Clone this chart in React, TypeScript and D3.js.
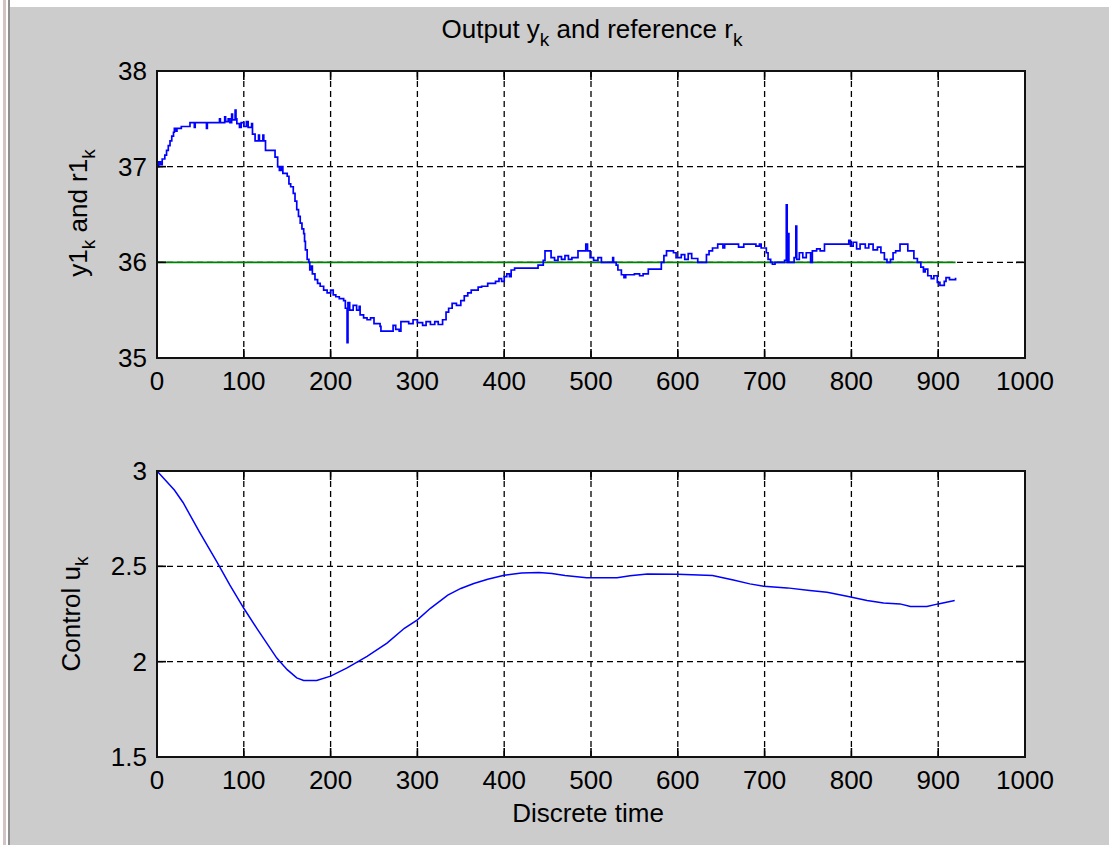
import React from "react";
import * as d3 from "d3";

// Output y1_k (sample index, value)
const y1Points: [number, number][] = [
  [0, 37.0], [2, 37.05], [4, 37.02], [6, 37.08], [9, 37.12], [11, 37.17], [13, 37.22], [15, 37.27],
  [17, 37.32], [19, 37.36], [20, 37.4], [22, 37.37], [23, 37.4], [28, 37.42], [38, 37.46], [43, 37.41],
  [44, 37.46], [57, 37.4], [58, 37.46], [72, 37.5], [73, 37.46], [78, 37.52], [79, 37.47], [82, 37.5],
  [84, 37.46], [86, 37.55], [87, 37.49], [90, 37.59], [91, 37.5], [92, 37.45], [95, 37.41], [97, 37.46],
  [100, 37.42], [103, 37.47], [105, 37.41], [109, 37.45], [110, 37.34], [113, 37.27], [117, 37.33],
  [118, 37.27], [122, 37.33], [123, 37.27], [125, 37.17], [136, 37.1], [139, 37.0], [141, 36.96],
  [143, 37.0], [145, 36.93], [150, 36.9], [152, 36.82], [154, 36.79], [157, 36.72], [159, 36.64],
  [161, 36.55], [163, 36.48], [165, 36.41], [167, 36.35], [169, 36.3], [170, 36.22], [171, 36.13],
  [173, 36.03], [175, 36.0], [176, 35.92], [178, 35.96], [179, 35.88], [182, 35.82], [185, 35.78],
  [188, 35.75], [192, 35.71], [196, 35.68], [200, 35.71], [203, 35.66], [206, 35.64], [210, 35.62],
  [215, 35.6], [217, 35.52], [219, 35.16], [220, 35.58], [222, 35.5], [226, 35.55], [230, 35.5],
  [233, 35.54], [234, 35.45], [238, 35.42], [242, 35.4], [246, 35.42], [250, 35.36], [257, 35.33],
  [258, 35.28], [270, 35.28], [272, 35.34], [275, 35.3], [279, 35.28], [281, 35.38], [290, 35.36],
  [295, 35.4], [300, 35.37], [306, 35.34], [310, 35.38], [315, 35.35], [320, 35.38], [324, 35.35],
  [329, 35.4], [333, 35.48], [336, 35.52], [340, 35.57], [345, 35.55], [350, 35.6], [354, 35.65],
  [358, 35.68], [362, 35.71], [370, 35.74], [374, 35.75], [381, 35.78], [390, 35.8], [394, 35.83],
  [397, 35.8], [400, 35.85], [403, 35.88], [406, 35.85], [408, 35.92], [412, 35.94], [439, 35.97],
  [445, 36.02], [447, 36.12], [454, 36.05], [458, 36.02], [462, 36.06], [466, 36.03], [470, 36.07],
  [474, 36.03], [478, 36.05], [485, 36.12], [494, 36.19], [496, 36.12], [499, 36.05], [503, 36.02],
  [508, 36.05], [512, 36.0], [525, 36.05], [526, 36.0], [529, 35.97], [531, 35.92], [535, 35.87],
  [538, 35.84], [540, 35.87], [550, 35.88], [556, 35.86], [560, 35.88], [566, 35.93], [581, 36.0],
  [584, 36.07], [587, 36.12], [595, 36.1], [598, 36.05], [604, 36.08], [608, 36.03], [612, 36.09],
  [616, 36.04], [623, 36.0], [633, 36.08], [636, 36.12], [640, 36.15], [646, 36.19], [652, 36.15],
  [654, 36.19], [670, 36.16], [676, 36.19], [690, 36.17], [694, 36.19], [696, 36.15], [702, 36.1],
  [704, 36.03], [707, 36.0], [709, 35.98], [712, 36.0], [723, 36.02], [725, 36.6], [726, 36.0],
  [727, 36.3], [728, 36.0], [734, 36.05], [736, 36.38], [737, 36.03], [740, 36.1], [744, 36.05],
  [748, 36.1], [753, 36.0], [755, 36.12], [760, 36.14], [764, 36.12], [769, 36.19], [797, 36.23],
  [799, 36.17], [802, 36.21], [806, 36.14], [810, 36.19], [816, 36.15], [820, 36.19], [825, 36.13],
  [830, 36.16], [834, 36.1], [838, 36.03], [841, 36.0], [845, 36.03], [848, 36.1], [851, 36.12],
  [856, 36.19], [865, 36.12], [872, 36.04], [876, 36.0], [880, 35.95], [883, 35.9], [885, 35.93],
  [888, 35.86], [892, 35.83], [895, 35.86], [899, 35.79], [902, 35.76], [907, 35.8], [909, 35.84],
  [913, 35.82], [920, 35.84],
];

// Reference r1_k
const refPoints: [number, number][] = [[0, 36], [920, 36]];

// Control u_k
const uPoints: [number, number][] = [
  [0, 3.0], [10, 2.95], [20, 2.9], [30, 2.835], [49, 2.679], [69, 2.523], [84, 2.401], [100, 2.28], [115, 2.175],
  [138, 2.019], [150, 1.958], [161, 1.915], [169, 1.901], [184, 1.901], [200, 1.924], [219, 1.967],
  [242, 2.028], [265, 2.097], [285, 2.175], [300, 2.219], [315, 2.28], [335, 2.349], [350, 2.384],
  [365, 2.41], [381, 2.432], [400, 2.453], [420, 2.465], [440, 2.467], [455, 2.462], [470, 2.452],
  [495, 2.44], [530, 2.44], [545, 2.45], [565, 2.46], [600, 2.458], [640, 2.452], [664, 2.428],
  [683, 2.408], [699, 2.395], [726, 2.387], [752, 2.373], [772, 2.364], [795, 2.343], [818, 2.321],
  [837, 2.308], [856, 2.303], [868, 2.289], [887, 2.289], [900, 2.303], [919, 2.321],
];

const xTicks = [0, 100, 200, 300, 400, 500, 600, 700, 800, 900, 1000];
const yTopTicks = [35, 36, 37, 38];
const yBotTicks = [1.5, 2, 2.5, 3];

const FONT = "'Liberation Sans', Arial, sans-serif";
const FS = 26;
const SUB = 19;

type PanelProps = {
  top: number;
  bottom: number;
  yDomain: [number, number];
  yTicks: number[];
  children: (x: d3.ScaleLinear<number, number>, y: d3.ScaleLinear<number, number>) => React.ReactNode;
};

const LEFT = 157;
const RIGHT = 1025;

function Panel({ top, bottom, yDomain, yTicks, children }: PanelProps) {
  const x = d3.scaleLinear().domain([0, 1000]).range([LEFT, RIGHT]);
  const y = d3.scaleLinear().domain(yDomain).range([bottom, top]);
  const tl = 9;
  return (
    <g>
      <rect x={LEFT} y={top} width={RIGHT - LEFT} height={bottom - top} fill="#ffffff" />
      {xTicks.slice(1, -1).map((t) => (
        <line key={"gx" + t} x1={x(t)} x2={x(t)} y1={top} y2={bottom} stroke="#000" strokeWidth={1.3} strokeDasharray="6,4" />
      ))}
      {yTicks.slice(1, -1).map((t) => (
        <line key={"gy" + t} x1={LEFT} x2={RIGHT} y1={y(t)} y2={y(t)} stroke="#000" strokeWidth={1.3} strokeDasharray="6,4" />
      ))}
      {children(x, y)}
      {xTicks.map((t) => (
        <g key={"tx" + t}>
          <line x1={x(t)} x2={x(t)} y1={bottom} y2={bottom - tl} stroke="#000" strokeWidth={1.6} />
          <line x1={x(t)} x2={x(t)} y1={top} y2={top + tl} stroke="#000" strokeWidth={1.6} />
          <text x={x(t)} y={bottom + 32} textAnchor="middle" fontFamily={FONT} fontSize={FS} fill="#000">
            {t}
          </text>
        </g>
      ))}
      {yTicks.map((t) => (
        <g key={"ty" + t}>
          <line x1={LEFT} x2={LEFT + tl} y1={y(t)} y2={y(t)} stroke="#000" strokeWidth={1.6} />
          <line x1={RIGHT} x2={RIGHT - tl} y1={y(t)} y2={y(t)} stroke="#000" strokeWidth={1.6} />
          <text x={147} y={y(t) + 9} textAnchor="end" fontFamily={FONT} fontSize={FS} fill="#000">
            {t}
          </text>
        </g>
      ))}
      <rect x={LEFT} y={top} width={RIGHT - LEFT} height={bottom - top} fill="none" stroke="#111" strokeWidth={2} />
    </g>
  );
}

export default function App() {
  const stepLine = (x: d3.ScaleLinear<number, number>, y: d3.ScaleLinear<number, number>) =>
    d3
      .line<[number, number]>()
      .x((d) => x(d[0]))
      .y((d) => y(d[1]))
      .curve(d3.curveStepAfter);
  const plainLine = (x: d3.ScaleLinear<number, number>, y: d3.ScaleLinear<number, number>) =>
    d3
      .line<[number, number]>()
      .x((d) => x(d[0]))
      .y((d) => y(d[1]));

  return (
    <svg
      width={1109}
      height={845}
      style={{ position: "absolute", left: 0, top: 0, display: "block" }}
    >
      <rect x={0} y={0} width={1109} height={845} fill="#ffffff" />
      <rect x={10} y={7} width={1099} height={838} fill="#cccccc" />
      <rect x={3} y={0} width={3} height={845} fill="#d2c4c4" />
      <rect x={8} y={0} width={2} height={845} fill="#8e8e8e" />

      <text x={592} y={38} textAnchor="middle" fontFamily={FONT} fontSize={FS} fill="#000">
        <tspan>Output y</tspan>
        <tspan fontSize={SUB} dy={8}>k</tspan>
        <tspan dy={-8}> and reference r</tspan>
        <tspan fontSize={SUB} dy={8}>k</tspan>
      </text>

      <Panel top={71} bottom={358} yDomain={[35, 38]} yTicks={yTopTicks}>
        {(x, y) => (
          <g>
            <path d={plainLine(x, y)(refPoints) ?? ""} fill="none" stroke="#008000" strokeWidth={1.8} />
            <path d={stepLine(x, y)(y1Points) ?? ""} fill="none" stroke="#0000ff" strokeWidth={1.7} />
          </g>
        )}
      </Panel>

      <Panel top={471} bottom={757} yDomain={[1.5, 3]} yTicks={yBotTicks}>
        {(x, y) => (
          <path d={plainLine(x, y)(uPoints) ?? ""} fill="none" stroke="#0000ff" strokeWidth={1.5} />
        )}
      </Panel>

      <text transform="translate(87,213) rotate(-90)" textAnchor="middle" fontFamily={FONT} fontSize={FS} fill="#000">
        <tspan>y1</tspan>
        <tspan fontSize={SUB} dy={8}>k</tspan>
        <tspan dy={-8}> and r1</tspan>
        <tspan fontSize={SUB} dy={8}>k</tspan>
      </text>

      <text transform="translate(80,614) rotate(-90)" textAnchor="middle" fontFamily={FONT} fontSize={FS} fill="#000">
        <tspan>Control u</tspan>
        <tspan fontSize={SUB} dy={8}>k</tspan>
      </text>

      <text x={588} y={822} textAnchor="middle" fontFamily={FONT} fontSize={FS} fill="#000">
        Discrete time
      </text>
    </svg>
  );
}
